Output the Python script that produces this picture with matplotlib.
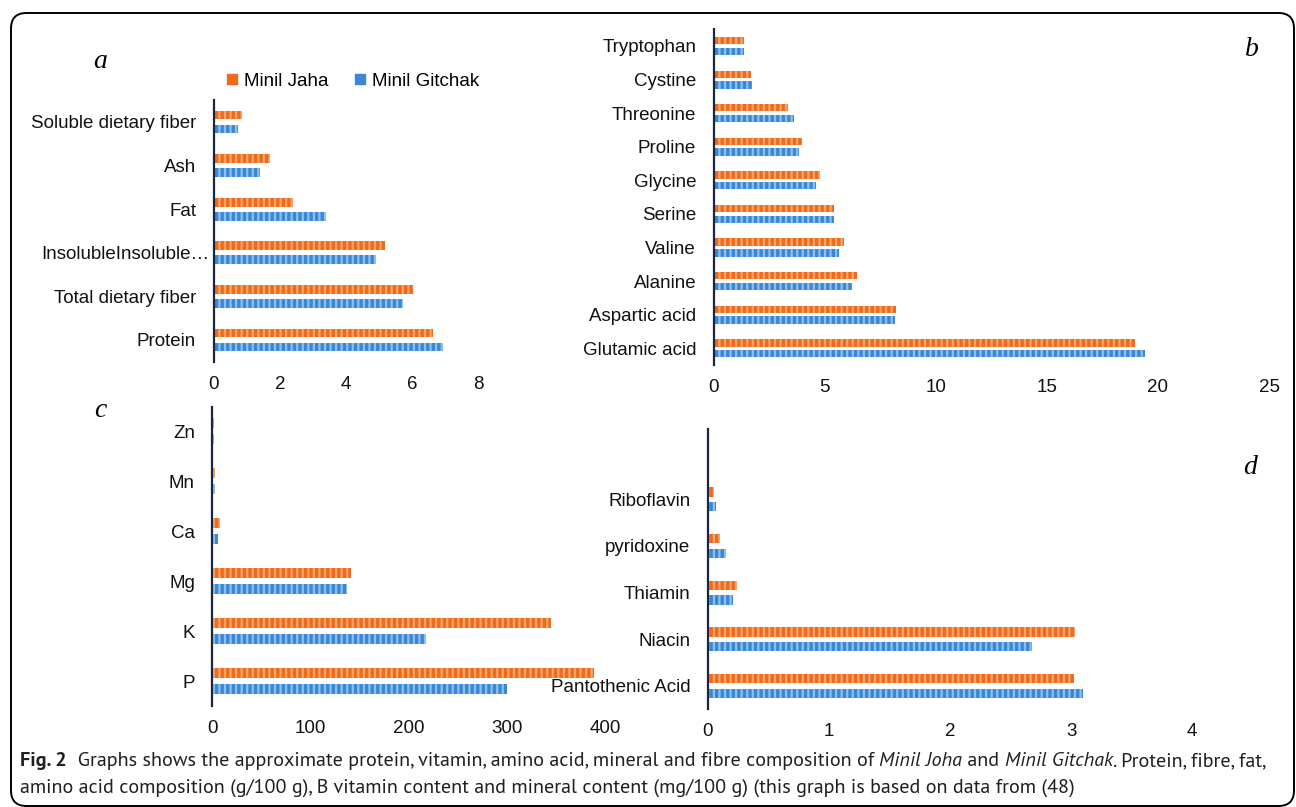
import matplotlib
matplotlib.use("Agg")
import matplotlib.pyplot as plt
from matplotlib import font_manager
from matplotlib.lines import Line2D
from matplotlib.patches import FancyBboxPatch
from matplotlib.transforms import ScaledTranslation
import numpy as np

# ---- data -------------------------------------------------------------
series_names = ["Minil Jaha", "Minil Gitchak"]

# (a) proximate composition, g/100 g (listed bottom to top)
cats_a = ["Protein", "Total dietary fiber", "InsolubleInsoluble\u2026", "Fat", "Ash",
          "Soluble dietary fiber"]
jaha_a = [6.62, 6.03, 5.16, 2.41, 1.70, 0.86]
gitchak_a = [6.91, 5.70, 4.91, 3.39, 1.40, 0.75]

# (b) amino acids, g/100 g
cats_b = ["Glutamic acid", "Aspartic acid", "Alanine", "Valine", "Serine", "Glycine",
          "Proline", "Threonine", "Cystine", "Tryptophan"]
jaha_b = [18.95, 8.23, 6.44, 5.87, 5.43, 4.79, 4.00, 3.36, 1.69, 1.37]
gitchak_b = [19.43, 8.17, 6.23, 5.64, 5.43, 4.62, 3.85, 3.61, 1.73, 1.39]

# (c) minerals, mg/100 g
cats_c = ["P", "K", "Mg", "Ca", "Mn", "Zn"]
jaha_c = [389, 345, 141, 7.5, 3.0, 2.0]
gitchak_c = [300, 218, 137, 6.3, 2.5, 1.5]

# (d) B vitamins, mg/100 g
cats_d = ["Pantothenic Acid", "Niacin", "Thiamin", "pyridoxine", "Riboflavin"]
jaha_d = [3.02, 3.03, 0.244, 0.097, 0.047]
gitchak_d = [3.10, 2.68, 0.21, 0.147, 0.07]

xticks_a = [0, 2, 4, 6, 8]
xticks_b = [0, 5, 10, 15, 20, 25]
xticks_c = [0, 100, 200, 300, 400]
xticks_d = [0, 1, 2, 3, 4]

# ---- style ------------------------------------------------------------
ORANGE, ORANGE_STRIPE = "#F06A1C", "#F9A468"
BLUE, BLUE_STRIPE = "#3A87D6", "#8CC0EE"
AXIS_COLOR = "#1B2540"

def pick(*names):
    avail = {f.name for f in font_manager.fontManager.ttflist}
    for n in names:
        if n in avail:
            return n
    return "DejaVu Sans"

SANS = pick("Liberation Sans", "Arimo", "Arial")
SERIF = pick("Liberation Serif", "Tinos", "DejaVu Serif")
CAPTION = pick("PT Sans", "Hind Guntur", "Lato")

plt.rcParams["hatch.linewidth"] = 1.6
plt.rcParams["font.family"] = SANS

W, H = 1296, 807
fig = plt.figure(figsize=(W / 100, H / 100), dpi=100)
fig.patch.set_facecolor("white")

# rounded frame around the figure
frame = FancyBboxPatch((11 / W, 1 - 806 / H), (1294 - 11) / W, (806 - 13) / H,
                       boxstyle="round,pad=0,rounding_size=0.012",
                       transform=fig.transFigure, fill=False, lw=1.4,
                       edgecolor="black", mutation_aspect=W / H)
fig.patches.append(frame)


def px_axes(left, top, right, bottom):
    return fig.add_axes([left / W, 1 - bottom / H, (right - left) / W, (bottom - top) / H])


def panel(ax, cats, jaha, gitchak, xmax, xticks, n_slots, bar_h=0.2, off=0.16):
    y = np.arange(len(cats))
    ax.barh(y + off, jaha, height=bar_h, color=ORANGE, edgecolor=ORANGE_STRIPE,
            hatch="|||", linewidth=0, label=series_names[0])
    ax.barh(y - off, gitchak, height=bar_h, color=BLUE, edgecolor=BLUE_STRIPE,
            hatch="|||", linewidth=0, label=series_names[1])
    ax.set_xlim(0, xmax)
    ax.set_ylim(-0.5, n_slots - 0.5)
    ax.set_yticks(y)
    ax.set_yticklabels(cats)
    ax.set_xticks(xticks)
    ax.set_xticklabels([str(t) for t in xticks])
    for s in ("top", "right", "bottom"):
        ax.spines[s].set_visible(False)
    ax.spines["left"].set_color(AXIS_COLOR)
    ax.spines["left"].set_linewidth(1.6)
    ax.tick_params(axis="both", length=0, labelsize=13.5, colors="#111111")
    ax.tick_params(axis="y", pad=12.5)
    ax.tick_params(axis="x", pad=10)
    ax.set_facecolor("none")


ax_a = px_axes(213.5, 100.2, 478.8, 361.8)
panel(ax_a, cats_a, jaha_a, gitchak_a, 8, xticks_a, len(cats_a))
# the truncated category name runs up to the axis line
long_label = ax_a.get_yticklabels()[2]
long_label.set_transform(long_label.get_transform() +
                         ScaledTranslation(13 / 100, 0, fig.dpi_scale_trans))

ax_b = px_axes(713.5, 29.2, 1269, 365.1)
panel(ax_b, cats_b, jaha_b, gitchak_b, 25, xticks_b, len(cats_b), bar_h=0.22)

ax_c = px_axes(212.3, 406.5, 605, 706)
panel(ax_c, cats_c, jaha_c, gitchak_c, 400, xticks_c, len(cats_c))

ax_d = px_axes(707.9, 429.3, 1192.3, 709.3)
panel(ax_d, cats_d, jaha_d, gitchak_d, 4, xticks_d, len(cats_d) + 1)

# legend for the series
handles = [Line2D([], [], ls="", marker="s", markersize=6.5, color=ORANGE, label=series_names[0]),
           Line2D([], [], ls="", marker="s", markersize=6.5, color=BLUE, label=series_names[1])]
fig.legend(handles=handles, loc="center left", bbox_to_anchor=(226 / W, 1 - 81 / H),
           ncol=2, frameon=False, fontsize=13.5, handlelength=0.6, handletextpad=0.35,
           columnspacing=1.4, borderpad=0, borderaxespad=0)

# panel letters
for letter, (x, y) in {"a": (100, 62), "b": (1252, 49), "c": (100, 410), "d": (1250, 467)}.items():
    fig.text(x / W, 1 - y / H, letter, family=SERIF, style="italic", fontsize=20,
             ha="center", va="center", color="black")

# caption, composed from runs of plain, bold and italic text
CAP_COLOR = "#231F20"
CAP_LEFT, CAP_RIGHT = 20, 1270
renderer = fig.canvas.get_renderer()

line1 = [("Fig. 2", "bold", "normal"),
         ("  Graphs shows the approximate protein, vitamin, amino acid, mineral and fibre composition of ",
          "normal", "normal"),
         ("Minil Joha", "normal", "italic"),
         (" and ", "normal", "normal"),
         ("Minil Gitchak", "normal", "italic"),
         (". Protein, fibre, fat,", "normal", "normal")]
line2 = [("amino acid composition (g/100 g), B vitamin content and mineral content (mg/100 g) "
          "(this graph is based on data from (48)", "normal", "normal")]


def caption_line(runs, x0, y0, size):
    x = x0
    made = []
    for txt, weight, style in runs:
        t = fig.text(x / W, 1 - y0 / H, txt, family=CAPTION, fontsize=size,
                     weight=weight, style=style, color=CAP_COLOR, ha="left", va="baseline")
        x += t.get_window_extent(renderer=renderer).width
        made.append(t)
    return made, x - x0


# size the caption so the first line fills the text block width
probe, width = caption_line(line1, CAP_LEFT, 766, 12)
for t in probe:
    t.remove()
cap_size = 12 * (CAP_RIGHT - CAP_LEFT) / width
caption_line(line1, CAP_LEFT, 766, cap_size)
caption_line(line2, CAP_LEFT, 793, cap_size)

fig.savefig("out.png", dpi=100, facecolor="white")
